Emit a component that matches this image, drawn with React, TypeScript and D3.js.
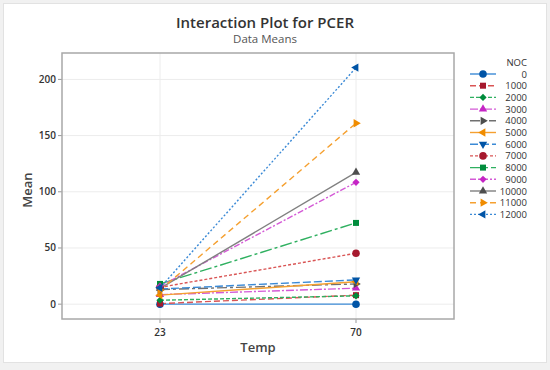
import React from "react";
import * as d3 from "d3";

const categories = ["23", "70"];
const series = ["0", "1000", "2000", "3000", "4000", "5000", "6000", "7000", "8000", "9000", "10000", "11000", "12000"];
const at23 = [0, 0.5, 3.5, 8.5, 13, 8, 13.5, 15, 18, 16, 14, 12.5, 14.5];
const at70 = [0, 8, 7.4, 14.2, 18, 20, 21.6, 45.3, 72.3, 108.4, 117.3, 161, 210.5];
const yTicks = [0, 50, 100, 150, 200];

const markerColors = ["#0054a6", "#a6192e", "#008c3c", "#c525c5", "#4d4d4d", "#f08c00", "#0054a6", "#a6192e", "#008c3c", "#c525c5", "#4d4d4d", "#f08c00", "#0054a6"];
const lineColors = ["#3b8ad6", "#d95555", "#2fb060", "#d45ad6", "#707070", "#f5a030", "#3b8ad6", "#d95555", "#2fb060", "#d45ad6", "#808080", "#f5a030", "#3b8ad6"];
const dashes = ["", "6,3", "4,2", "8,2,2,2", "10,3,3,3", "", "8,3", "3,2", "12,3,3,3", "6,2,2,2", "", "6,4", "2,2"];
type Shape = { sym: d3.SymbolType; rot: number; size: number };
const shapes: Shape[] = [
  { sym: d3.symbolCircle, rot: 0, size: 45 },
  { sym: d3.symbolSquare, rot: 0, size: 36 },
  { sym: d3.symbolSquare, rot: 45, size: 26 },
  { sym: d3.symbolTriangle, rot: 0, size: 30 },
  { sym: d3.symbolTriangle, rot: 90, size: 30 },
  { sym: d3.symbolTriangle, rot: -90, size: 30 },
  { sym: d3.symbolTriangle, rot: 180, size: 30 },
  { sym: d3.symbolCircle, rot: 0, size: 45 },
  { sym: d3.symbolSquare, rot: 0, size: 36 },
  { sym: d3.symbolSquare, rot: 45, size: 26 },
  { sym: d3.symbolTriangle, rot: 0, size: 30 },
  { sym: d3.symbolTriangle, rot: 90, size: 30 },
  { sym: d3.symbolTriangle, rot: -90, size: 30 },
];

const W = 550, H = 370;
const L = 62, R = 454, T = 53, B = 319;
const font = "'Open Sans', 'Noto Sans', sans-serif";

export default function App() {
  const x = d3.scalePoint().domain(categories).range([L, R]).padding(0.5);
  const y = d3.scaleLinear().domain([-13.2, 223.5]).range([B, T]);
  const line = d3.line<[string, number]>().x((d) => x(d[0])!).y((d) => y(d[1]));
  const legendY = (i: number) => 74 + i * 11.7;
  return (
    <svg width={W} height={H} style={{ position: "absolute", left: 0, top: 0 }} fontFamily={font}>
      <rect x={0} y={0} width={W} height={H} fill="#f1f1f1" />
      <rect x={3.5} y={3.5} width={543} height={359} fill="#ffffff" stroke="#e2e2e2" />
      <text x={265} y={28} textAnchor="middle" fontSize={15} fontWeight={600} fill="#333">Interaction Plot for PCER</text>
      <text x={265} y={43} textAnchor="middle" fontSize={11.5} fill="#555">Data Means</text>
      {yTicks.map((t) => (
        <g key={t}>
          <line x1={L} x2={R} y1={y(t)} y2={y(t)} stroke="#ececec" />
          <line x1={L - 4} x2={L} y1={y(t)} y2={y(t)} stroke="#999" />
          <text x={L - 6} y={y(t) + 3.5} textAnchor="end" fontSize={10} fontWeight={600} fill="#333">{t}</text>
        </g>
      ))}
      {categories.map((c) => (
        <g key={c}>
          <line x1={x(c)} x2={x(c)} y1={T} y2={B} stroke="#ececec" />
          <line x1={x(c)} x2={x(c)} y1={B} y2={B + 4} stroke="#999" />
          <text x={x(c)} y={B + 17} textAnchor="middle" fontSize={10} fontWeight={600} fill="#333">{c}</text>
        </g>
      ))}
      {series.map((s, i) => (
        <path key={s} d={line([[categories[0], at23[i]], [categories[1], at70[i]]])!} fill="none" stroke={lineColors[i]} strokeWidth={1.4} strokeDasharray={dashes[i]} />
      ))}
      {series.map((s, i) =>
        [at23[i], at70[i]].map((v, j) => (
          <path key={s + j} d={d3.symbol().type(shapes[i].sym).size(shapes[i].size)()!} transform={`translate(${x(categories[j])},${y(v)}) rotate(${shapes[i].rot})`} fill={markerColors[i]} />
        ))
      )}
      <rect x={L} y={T} width={R - L} height={B - T} fill="none" stroke="#a8a8a8" strokeWidth={1.5} />
      <text x={(L + R) / 2} y={352} textAnchor="middle" fontSize={13} fontWeight={600} fill="#444">Temp</text>
      <text transform={`translate(32,${(T + B) / 2 + 4}) rotate(-90)`} textAnchor="middle" fontSize={13} fontWeight={600} fill="#444">Mean</text>
      <text x={527} y={66} textAnchor="end" fontSize={9.5} fill="#333">NOC</text>
      {series.map((s, i) => (
        <g key={s}>
          <line x1={470} x2={496} y1={legendY(i)} y2={legendY(i)} stroke={lineColors[i]} strokeWidth={1.4} strokeDasharray={dashes[i]} />
          <path d={d3.symbol().type(shapes[i].sym).size(shapes[i].size)()!} transform={`translate(483,${legendY(i)}) rotate(${shapes[i].rot})`} fill={markerColors[i]} />
          <text x={527} y={legendY(i) + 3.5} textAnchor="end" fontSize={9.5} fill="#333">{s}</text>
        </g>
      ))}
    </svg>
  );
}
